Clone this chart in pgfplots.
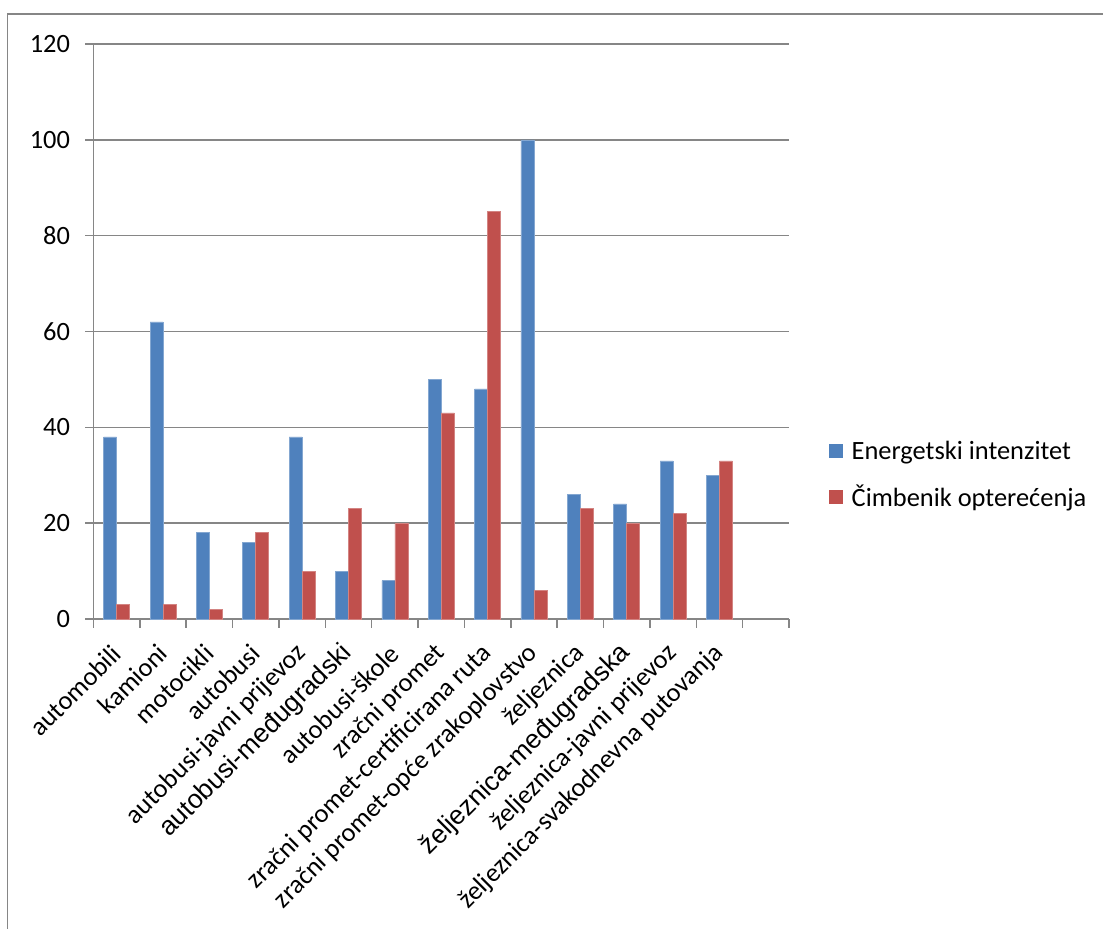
\documentclass[border=0pt]{standalone}
\usepackage{pgfplots}
\pgfplotsset{compat=1.18}
\usepackage{fontspec}
\setmainfont{Carlito}
\newfontfamily\arial{Liberation Sans}
\definecolor{serblue}{HTML}{4F81BD}
\definecolor{serred}{HTML}{C0504D}
\definecolor{gridgray}{HTML}{868686}
\begin{document}
\begin{tikzpicture}
\useasboundingbox (0,0) rectangle (551.5pt,-464.5pt);
\draw[gridgray, line width=0.75pt] (3.75pt,-464.5pt) -- (3.75pt,-7pt) -- (551.5pt,-7pt);
\begin{axis}[
    at={(46.75pt,-309.5pt)}, anchor=south west,
    scale only axis, width=347.75pt, height=287.5pt,
    font=\fontsize{13.2}{16}\selectfont,
    /pgf/number format/assume math mode=true,
    ybar=0pt, bar width=6.5pt,
    xmin=-0.5, xmax=14.5,
    ymin=0, ymax=120, ytick={0,20,...,120},
    axis x line*=bottom, axis y line*=left,
    axis line style={gridgray, line width=0.75pt},
    ymajorgrids, grid style={gridgray, line width=0.75pt},
    tick align=outside, major tick length=4.25pt,
    tick style={gridgray, line width=0.75pt},
    xtick={-0.5,0.5,...,14.5}, xticklabels={},
    extra x ticks={0,1,...,13},
    extra x tick labels={automobili,kamioni,motocikli,autobusi,autobusi-javni prijevoz,{\arial autobusi-međugradski},autobusi-škole,zračni promet,zračni promet-certificirana ruta,zračni promet-opće zrakoplovstvo,željeznica,{\arial željeznica-međugradska},željeznica-javni prijevoz,željeznica-svakodnevna putovanja},
    extra x tick style={major tick length=0pt, grid=none,
        xticklabel style={xshift=0pt, yshift=-15pt, rotate=45, anchor=east, inner sep=0pt}},
    yticklabel style={xshift=-4pt},
    legend style={at={(1,0.25)}, anchor=west, xshift=17pt, draw=none, fill=none,
        row sep=7.5pt, font=\fontsize{13.2}{16}\selectfont},
    legend cell align=left,
    legend image code/.code={\fill[#1, draw=none] (1pt,-3.5pt) rectangle (8pt,3.5pt); \path (10pt,0pt);},
]
\addplot[fill=serblue, draw=serblue!70!white, line width=0.3pt] coordinates {
(0,38) (1,62) (2,18) (3,16) (4,38) (5,10) (6,8) (7,50) (8,48) (9,100) (10,26) (11,24) (12,33) (13,30)};
\addplot[fill=serred, draw=serred!70!white, line width=0.3pt] coordinates {
(0,3) (1,3) (2,2) (3,18) (4,10) (5,23) (6,20) (7,43) (8,85) (9,6) (10,23) (11,20) (12,22) (13,33)};
\legend{Energetski intenzitet, Čimbenik opterećenja}
\end{axis}
\end{tikzpicture}
\end{document}
